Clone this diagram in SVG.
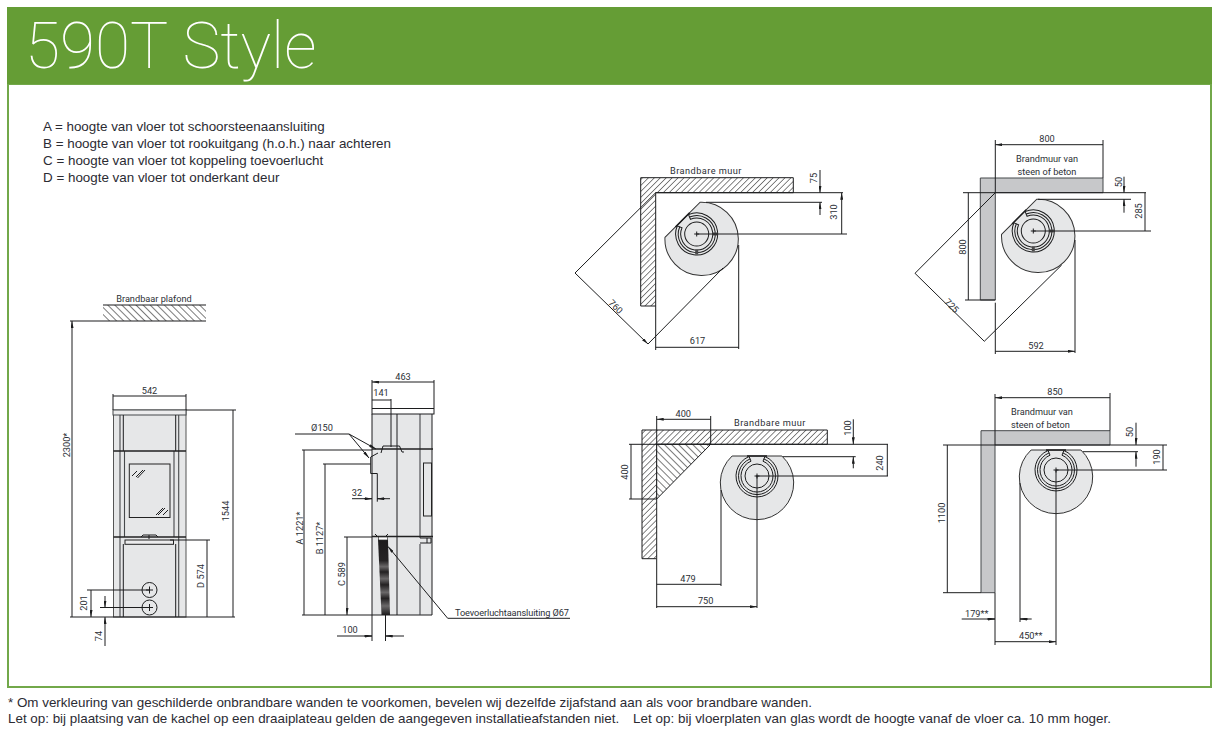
<svg xmlns="http://www.w3.org/2000/svg" width="1220" height="736" viewBox="0 0 1220 736">
<style>
.t{font-family:"Liberation Sans",Arial,sans-serif;font-size:13.4px;fill:#2b2b33}
.l{font-family:"Roboto","Liberation Sans",sans-serif;font-size:9.2px;fill:#2c3036}
.m{text-anchor:middle}
.n{fill:none;stroke:#1c1d1e;stroke-width:1}
.o{fill:none;stroke:#1c1d1e;stroke-width:1.1}
.g{fill:none;stroke:#45484a;stroke-width:1.1}
.a{fill:none;stroke:#1c1d1e;stroke-width:1;marker-end:url(#ar)}
.d{fill:none;stroke:#1c1d1e;stroke-width:1;marker-start:url(#ar);marker-end:url(#ar)}
.s{fill:#e6e7e8}
.w{fill:#c7c8ca;stroke:#45484a;stroke-width:1}
</style>
<defs>
<marker id="ar" viewBox="0 0 7 3" refX="7" refY="1.5" markerWidth="7" markerHeight="3" markerUnits="userSpaceOnUse" orient="auto-start-reverse"><path d="M0 0L7 1.5L0 3z" fill="#1c1d1e"/></marker>
<pattern id="hf" width="4.2" height="4.2" patternUnits="userSpaceOnUse" patternTransform="rotate(45)"><rect width="4.2" height="4.2" fill="#fff"/><path d="M0 0V4.2" stroke="#222" stroke-width="1.1"/></pattern>
<pattern id="hb" width="5" height="5" patternUnits="userSpaceOnUse" patternTransform="rotate(-45)"><rect width="5" height="5" fill="#fff"/><path d="M0 0V5" stroke="#222" stroke-width="1.2"/></pattern>
<linearGradient id="duct" x1="0" y1="0" x2="0" y2="1"><stop offset="0" stop-color="#1d1b1c"/><stop offset=".28" stop-color="#262425"/><stop offset=".36" stop-color="#6a6869"/><stop offset=".43" stop-color="#232122"/><stop offset=".52" stop-color="#6a6869"/><stop offset=".6" stop-color="#232122"/><stop offset=".7" stop-color="#6a6869"/><stop offset=".78" stop-color="#232122"/><stop offset=".88" stop-color="#6a6869"/><stop offset="1" stop-color="#1d1b1c"/></linearGradient>
<g id="plan">
<path class="s" d="M-24.9 -20H24.900A36.700 36.700 0 1 1 -24.900 -20Z" stroke="#333" stroke-width="1"/>
<circle r="12" class="n"/>
<path class="n" d="M7.900 -19.500A21 21 0 1 1 -7.900 -19.500L-6 -14.800A16 16 0 1 0 6 -14.800Z"/>
<path class="n" d="M6.900 -17.100A18.500 18.500 0 1 1 -6.900 -17.100"/>
<path d="M-10 -20H10" fill="none" stroke="#1c1d1e" stroke-width="1.500"/>
</g>
<path id="marks" d="M11 11L14.500 14.500M-11 11L-14.500 14.500" fill="none" stroke="#4a4a4a" stroke-width="3"/>
<path id="cross" d="M-2.500 0H2.500M0 -2.500V2.500" class="n"/>
</defs>
<rect width="1220" height="736" fill="#fff"/>
<g id="header">
<rect x="8" y="84" width="1203" height="603" fill="#fff" stroke="#72a84a" stroke-width="2"/>
<rect x="7" y="7" width="1205" height="77" fill="#659d35"/>
<text x="25" y="68" style="font-family:Roboto,sans-serif;font-weight:100;font-size:64px;fill:#fff">590T Style</text>
</g>
<g id="legend" class="t">
<text x="43" y="131">A = hoogte van vloer tot schoorsteenaansluiting</text>
<text x="43" y="148">B = hoogte van vloer tot rookuitgang (h.o.h.) naar achteren</text>
<text x="43" y="165">C = hoogte van vloer tot koppeling toevoerlucht</text>
<text x="43" y="182">D = hoogte van vloer tot onderkant deur</text>
</g>
<g id="front-view">
<rect x="103" y="305" width="103" height="16" fill="url(#hb)"/>
<path class="o" d="M103 305H206M70 321H206"/>
<text class="l m" x="154" y="302">Brandbaar plafond</text>
<rect class="s" x="113.500" y="410" width="72.500" height="207" stroke="#555" stroke-width="1"/>
<rect x="113" y="410" width="73" height="5" fill="#ececed" stroke="#45484a" stroke-width="1"/>
<path class="g" d="M120 415V617M178.700 415V617"/>
<path class="n" d="M123.300 415V451M175.700 415V451M123.300 544V617M175.700 544V617"/>
<path class="g" d="M124.500 451V537M174 451V537"/>
<path d="M113.500 451H186M113.500 537H186" stroke="#222" stroke-width="1.500" fill="none"/>
<rect x="129.300" y="464" width="40.700" height="53.500" fill="none" stroke="#222" stroke-width="1"/>
<path class="n" d="M132 476L137 471M136 477L143 470M137.500 478L145 470M156 515L163 508M158 515L165 508M163 515L168 510"/>
<rect x="125" y="540" width="48.500" height="4.300" fill="#ececed" stroke="#222" stroke-width="1"/>
<path class="n" d="M141 537L143 535H156L158 537M149 535V539"/>
<circle cx="149.500" cy="590" r="7.500" class="s" stroke="#1c1d1e"/>
<circle cx="149.500" cy="607.500" r="7.500" class="s" stroke="#1c1d1e"/>
<path class="n" d="M146 590H153M149.500 586.500V593.500M146 607.500H153M149.500 604V611"/>
<path class="n" d="M70 617H235M113 394V410M186 394V410M186 410H236M170 540H210M87 590H149M100 607.500H149"/>
<path class="d" d="M72 321V617M113 396H186M233 410V617M207 540V617M91 590V617"/>
<path class="a" d="M105 596V607.500"/><path class="a" d="M105 646V617"/>
<g class="l">
<text class="m" x="149.500" y="394">542</text>
<text class="m" transform="translate(70 445)rotate(-90)">2300*</text>
<text class="m" transform="translate(229 511)rotate(-90)">1544</text>
<text class="m" transform="translate(204 576)rotate(-90)">D 574</text>
<text class="m" transform="translate(87 603)rotate(-90)">201</text>
<text class="m" transform="translate(102 636)rotate(-90)">74</text>
</g>
</g>
<g id="side-view">
<rect class="s" x="372" y="414" width="60" height="201"/>
<path class="n" d="M372 414V615H432V414M397 414V615"/>
<path class="g" d="M420 414V538M420 544V615"/>
<rect x="372" y="408.500" width="62" height="5.500" fill="#fff" stroke="#1c1d1e" stroke-width="1"/>
<path d="M372 449H433M372 536.500H433" stroke="#222" stroke-width="1.300" fill="none"/>
<rect x="423.500" y="463" width="8" height="53" fill="none" stroke="#222" stroke-width="1"/>
<path class="n" d="M420 538H431V543H420M427 538V543"/>
<path class="n" d="M381 453L383 446H399.500L402 452H404M370.700 457L378 453M370.700 457V473.500H377.300V501.700M377 536L375 534M388 534L386 536"/>
<path d="M378 539.500H388L390 615H381.500Z" fill="url(#duct)"/>
<rect x="378.500" y="537" width="9" height="3" fill="#fff" stroke="#333" stroke-width=".7"/>
<path class="n" d="M372 380V408M434 380V408M391 399V447M302 450H372M323 464H370.700M344 537H372M302 615H372M372 615V641M385.500 615V641"/>
<path class="d" d="M372 382H434M372 400H391M304 450V615M325 464V615M347 537V615"/>
<path class="n" d="M295 434H349"/>
<path class="a" d="M349 434L376 449"/><path class="a" d="M349 434L369 458"/>
<path class="n" d="M352 498.700H372M377 498.700H390"/>
<path class="a" d="M364 498.700H372"/><path class="a" d="M385 498.700H377.300"/>
<path class="n" d="M337 636H372M385.500 636H404"/>
<path class="a" d="M364 636H372"/><path class="a" d="M393 636H385.500"/>
<path class="a" d="M447.700 618.300L388 546.500"/><path class="n" d="M447.700 618.300H570"/>
<g class="l">
<text class="m" x="403" y="379.500">463</text>
<text class="m" x="381" y="396">141</text>
<text class="m" x="322" y="431">Ø150</text>
<text class="m" x="357" y="496">32</text>
<text class="m" x="350" y="633">100</text>
<text x="455" y="615.500" style="letter-spacing:-.1px">Toevoerluchtaansluiting Ø67</text>
<text class="m" transform="translate(303 528)rotate(-90)">A 1221*</text>
<text class="m" transform="translate(323 538)rotate(-90)">B 1127*</text>
<text class="m" transform="translate(345 574)rotate(-90)">C 589</text>
</g>
</g>
<g id="plan-corner-combustible">
<path d="M640.700 177.700H793.300V192.700H655.700V306H640.700Z" fill="url(#hf)" stroke="#1c1d1e" stroke-width="1"/>
<use href="#plan" transform="translate(696.700 234)rotate(-45)"/>
<use href="#marks" transform="translate(696.700 234)rotate(-45)"/>
<use href="#cross" transform="translate(696.700 234)"/>
<path class="n" d="M655.700 192.700H843M706 202.300H822M697 234H847M655.700 306V350M738.700 245V349M655.700 192.700L575 273M723 268L648 344"/>
<path class="a" d="M820 170V192.700"/><path class="a" d="M820 215V202.300"/>
<path class="d" d="M841.700 192.700V234M655.700 347.300H738.700M575 273L648 344"/>
<g class="l">
<text x="670" y="173.500" style="letter-spacing:.45px">Brandbare muur</text>
<text class="m" transform="translate(817 178)rotate(-90)">75</text>
<text class="m" transform="translate(837 212)rotate(-90)">310</text>
<text class="m" transform="translate(613.500 309)rotate(45)">760</text>
<text class="m" x="697.500" y="344">617</text>
</g>
</g>
<g id="plan-corner-firewall">
<path class="w" d="M980.300 178H1103V192.700H995.300V300H980.300Z"/>
<use href="#plan" transform="translate(1033.300 231)rotate(-45)"/>
<use href="#marks" transform="translate(1033.300 231)rotate(-45)"/>
<use href="#cross" transform="translate(1033.300 231)"/>
<path class="n" d="M995.300 140V192.700M1103 140V178M963 192.700H1146M965 300H995.300M1038 199.300H1131M1033 231H1151M995.300 302.700V354M1075 240V353M995.300 192.700L915 273.300M1061.700 265L984.300 341.300"/>
<path class="a" d="M1124 176.700V192.700"/><path class="a" d="M1124 212.700V199.300"/>
<path class="d" d="M995.300 144.700H1103M968.300 192.700V300M1145 192.700V231M915 273.300L984.300 341.300M995.300 351.300H1075"/>
<g class="l">
<text class="m" x="1047" y="142">800</text>
<text class="m" x="1047" y="161.500">Brandmuur van</text>
<text class="m" x="1047" y="174.500">steen of beton</text>
<text class="m" transform="translate(966 247)rotate(-90)">800</text>
<text class="m" transform="translate(1121.500 182)rotate(-90)">50</text>
<text class="m" transform="translate(1142 211)rotate(-90)">285</text>
<text class="m" transform="translate(949.500 308)rotate(45)">725</text>
<text class="m" x="1036" y="349">592</text>
</g>
</g>
<g id="plan-wall-combustible">
<path d="M642 430H827.300V444.300H656.700V558.700H642Z" fill="url(#hf)" stroke="#1c1d1e" stroke-width="1"/>
<path d="M656.700 444.300H710.700L656.700 499Z" fill="url(#hb)" stroke="#1c1d1e" stroke-width="1"/>
<use href="#plan" transform="translate(757 476)"/>
<use href="#cross" transform="translate(757 476)"/>
<path class="n" d="M656.700 416V444.300M710.700 416V444.300M629 444.300H888M629 499H656.700M783 456.700H855.700M756 476H888M656.700 558.700V608M721 490V586M757 476V608"/>
<path class="a" d="M853.300 419.300V444.300"/><path class="a" d="M853.300 468.300V456.700"/>
<path class="d" d="M656.700 419.300H710.700M631 444.300V499M887.300 444.300V476M656.700 584.300H721M656.700 606.700H757"/>
<g class="l">
<text class="m" x="683.300" y="416.500">400</text>
<text x="734" y="425.500" style="letter-spacing:.45px">Brandbare muur</text>
<text class="m" transform="translate(628 472)rotate(-90)">400</text>
<text class="m" transform="translate(850.700 428)rotate(-90)">100</text>
<text class="m" transform="translate(882.700 463)rotate(-90)">240</text>
<text class="m" x="688" y="581.500">479</text>
<text class="m" x="705.700" y="604">750</text>
</g>
</g>
<g id="plan-wall-firewall">
<path class="w" d="M981 430.700H1110V445H995V592.700H981Z"/>
<use href="#plan" transform="translate(1056 470)"/>
<use href="#cross" transform="translate(1056 470)"/>
<path class="n" d="M995 394V445M1110 393V430.700M943 445H1167M943 592.700H981M1083 451.700H1138M1056 470H1167M1020 483V622M995 592.700V645M1056 470V645M961.700 619H995M1020 619H1031.700"/>
<path class="a" d="M1136 422.700V445"/><path class="a" d="M1136 466.700V451.700"/>
<path class="a" d="M987 619H995"/><path class="a" d="M1028 619H1020"/>
<path class="d" d="M995 397.700H1110M947.300 445V592.700M1163 445V470M995 641.700H1056"/>
<g class="l">
<text class="m" x="1055" y="394.500">850</text>
<text x="1011" y="415">Brandmuur van</text>
<text x="1011" y="427.500">steen of beton</text>
<text class="m" transform="translate(945 513)rotate(-90)">1100</text>
<text class="m" transform="translate(1133 432)rotate(-90)">50</text>
<text class="m" transform="translate(1160 457)rotate(-90)">190</text>
<text x="965" y="616.500">179**</text>
<text class="m" x="1030.700" y="638.500">450**</text>
</g>
</g>
<g id="footnotes" class="t">
<text x="8" y="707">* Om verkleuring van geschilderde onbrandbare wanden te voorkomen, bevelen wij dezelfde zijafstand aan als voor brandbare wanden.</text>
<text x="8" y="723">Let op: bij plaatsing van de kachel op een draaiplateau gelden de aangegeven installatieafstanden niet.</text>
<text x="633" y="723" style="letter-spacing:.03px">Let op: bij vloerplaten van glas wordt de hoogte vanaf de vloer ca. 10 mm hoger.</text>
</g>
</svg>
